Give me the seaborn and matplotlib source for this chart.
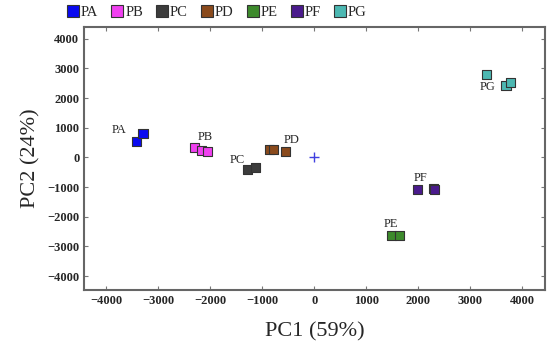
import pandas as pd
import seaborn as sns
from matplotlib import pyplot as plt

# datos
groups = ['PA', 'PA', 'PB', 'PB', 'PB', 'PC', 'PC', 'PD', 'PD', 'PD',
          'PE', 'PE', 'PF', 'PF', 'PF', 'PG', 'PG', 'PG']
pc1 = [-3420, -3300, -2310, -2170, -2060, -1290, -1135, -865, -790, -560,
       1480, 1635, 1980, 2290, 2310, 3310, 3690, 3770]
pc2 = [540, 810, 340, 240, 200, -400, -340, 270, 270, 200,
       -2630, -2630, -1080, -1050, -1080, 2800, 2430, 2530]

label_names = ['PA', 'PB', 'PC', 'PD', 'PE', 'PF', 'PG']
label_x = [-3750, -2100, -1480, -440, 1480, 2040, 3330]
label_y = [910, 680, -70, 580, -2260, -700, 2370]

colors = ['#0a0af0', '#f040f0', '#3c3c3c', '#8a4a1c', '#3d8a2c', '#4a1a8c', '#4cb8b2']

pcs = pd.DataFrame({'group': groups, 'PC1': pc1, 'PC2': pc2})

sns.set_style('ticks')
plt.rcParams['font.family'] = ['Liberation Serif', 'DejaVu Serif']

fig = plt.figure(figsize=(5.5, 3.55), dpi=100)
ax = fig.add_axes([0.153, 0.183, 0.838, 0.741])

sns.scatterplot(data=pcs, x='PC1', y='PC2', hue='group', hue_order=label_names,
                palette=colors, marker='s', s=45, edgecolor='#333333',
                linewidth=0.8, ax=ax, legend=False)

# origen
ax.plot([0], [0], marker='+', color='#4040e0', markersize=7, mew=1)

for name, lx, ly in zip(label_names, label_x, label_y):
    ax.text(lx, ly, name, fontsize=9, ha='center', va='center')

ax.set_xlim(-4430, 4440)
ax.set_ylim(-4470, 4400)
ax.set_xticks(range(-4000, 4001, 1000))
ax.set_yticks(range(-4000, 4001, 1000))
ax.set_xticklabels([str(v).replace('-', '\u2212') for v in range(-4000, 4001, 1000)])
ax.set_yticklabels([str(v).replace('-', '\u2212') for v in range(-4000, 4001, 1000)])
ax.tick_params(direction='in', top=True, right=True, length=3, width=0.8,
               color='#777777', labelsize=9)
for lab in ax.get_xticklabels() + ax.get_yticklabels():
    lab.set_fontweight('bold')
for sp in ax.spines.values():
    sp.set_color('#666666')
    sp.set_linewidth(1.5)

ax.set_xlabel('PC1 (59%)', fontsize=16, labelpad=11)
ax.set_ylabel('PC2 (24%)', fontsize=16, labelpad=5)

# leyenda
handles = [plt.Line2D([], [], marker='s', linestyle='', markersize=8,
                      markerfacecolor=c, markeredgecolor='#333333', markeredgewidth=0.8)
           for c in colors]
fig.legend(handles, label_names, loc='upper left', bbox_to_anchor=(0.098, 1.02),
           ncol=7, frameon=False, fontsize=10.5, handlelength=0.8,
           handletextpad=0.15, columnspacing=0.9)

plt.savefig('out.png', dpi=100)
